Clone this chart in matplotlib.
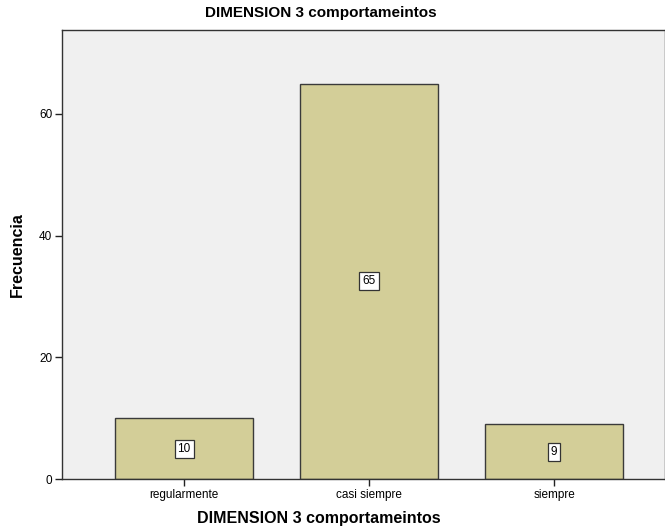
import matplotlib.pyplot as plt

categories = ['regularmente', 'casi siempre', 'siempre']
counts = [10, 65, 9]
yticks = [0, 20, 40, 60]

plt.rcParams['font.family'] = ['Liberation Sans', 'DejaVu Sans']

fig = plt.figure(figsize=(6.65, 5.29), dpi=100, facecolor='white')
ax = fig.add_axes([62/665, 1 - 479/529, 1 - 62/665, (479 - 30)/529])
ax.set_facecolor('#F0F0F0')

x = list(range(len(categories)))
ax.bar(x, counts, width=0.746, color='#D3CE98', edgecolor='#3a3a3a', linewidth=1.0, zorder=2)

# value labels in small boxes at mid-height
for xi, v in zip(x, counts):
    ax.text(xi, v / 2, str(v), ha='center', va='center', fontsize=8.5, zorder=3,
            bbox=dict(boxstyle='square,pad=0.25', facecolor='white', edgecolor='#333333', linewidth=0.9))

ax.set_xlim(-0.66, 2.6)
ax.set_ylim(0, 73.8)
ax.set_xticks(x)
ax.set_xticklabels(categories, fontsize=8.5)
ax.set_yticks(yticks)
ax.set_yticklabels([str(t) for t in yticks], fontsize=8.5)
ax.tick_params(axis='both', direction='out', length=5, width=1, color='#222222', pad=2)

for side in ['top', 'left', 'bottom', 'right']:
    ax.spines[side].set_color('#333333')
    ax.spines[side].set_linewidth(1.0)

fig.text(321/665, 1 - 13/529, 'DIMENSION 3 comportameintos', fontsize=11, fontweight='bold',
         ha='center', va='center')
fig.text(319/665, 1 - 519/529, 'DIMENSION 3 comportameintos', fontsize=11.5, fontweight='bold',
         ha='center', va='center')
ax.set_ylabel('Frecuencia', fontsize=11.5, fontweight='bold', labelpad=10)

fig.savefig('out.png', dpi=100)
